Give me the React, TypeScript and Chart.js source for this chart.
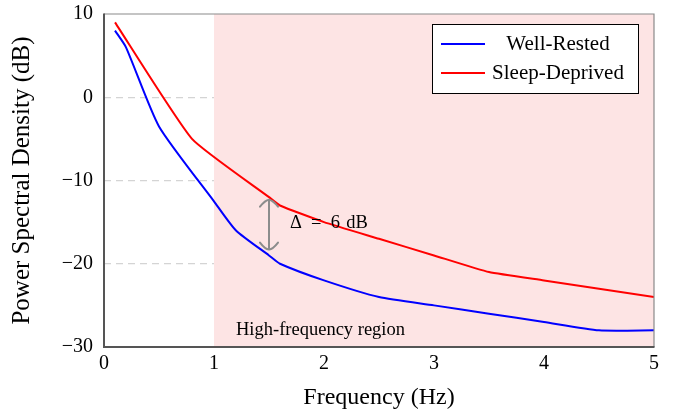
import React, { useEffect, useRef } from "react";
import { Chart, registerables, Plugin } from "chart.js";

Chart.register(...registerables);

// Spectra (frequency in Hz, power in dB)
const WELL_RESTED_X = [0.1, 0.2, 0.5, 1.0, 1.2, 1.5, 1.6, 2.0, 2.5, 3.0, 3.5, 4.0, 4.5, 5.0];
const WELL_RESTED_Y = [8, 6, -3.5, -12.5, -16, -19, -20, -22, -24, -25, -26, -27, -28, -28];
const SLEEP_DEPRIVED_X = [0.1, 0.8, 1.5, 1.6, 2.0, 2.5, 3.0, 3.5, 4.0, 5.0];
const SLEEP_DEPRIVED_Y = [9, -5, -12, -13, -15, -17, -19, -21, -22, -24];

const X_TICKS = [0, 1, 2, 3, 4, 5];
const Y_TICKS = [10, 0, -10, -20, -30];

// Shaded band and annotations
const REGION_FROM = 1;
const REGION_TO = 5;
const REGION_LABEL = "High-frequency region";
const REGION_LABEL_AT = { x: 1.2, y: -28 };
const DELTA_AT = 1.5;
const DELTA_TOP = -12.3;
const DELTA_DB = 6;
const DELTA_LABEL = `\u0394\u2002=\u2002${DELTA_DB}\u2004dB`;
const DELTA_LABEL_AT = { x: 1.69, y: -15.1 };

const SERIF = "'Liberation Serif', 'Times New Roman', serif";
const BLUE = "#0000ff";
const RED = "#ff0000";

const toPoints = (xs: number[], ys: number[]) => xs.map((x, i) => ({ x, y: ys[i] }));

const fmt = (v: number) => (v < 0 ? `\u2212${Math.abs(v)}` : `${v}`);

const decorations: Plugin<"line"> = {
  id: "decorations",
  beforeDatasetsDraw(chart) {
    const { ctx, chartArea, scales } = chart;
    const xs = scales.x;
    const x0 = xs.getPixelForValue(REGION_FROM);
    const x1 = xs.getPixelForValue(REGION_TO);
    ctx.save();
    ctx.fillStyle = "rgb(253, 228, 228)";
    ctx.fillRect(x0, chartArea.top, x1 - x0, chartArea.bottom - chartArea.top);
    ctx.restore();
  },
  afterDatasetsDraw(chart) {
    const { ctx, chartArea, scales } = chart;
    const xs = scales.x;
    const ys = scales.y;
    const { left, right, top, bottom } = chartArea;
    ctx.save();
    // frame
    ctx.strokeStyle = "#8a8a8a";
    ctx.lineWidth = 1.2;
    ctx.beginPath();
    ctx.moveTo(left, top);
    ctx.lineTo(right, top);
    ctx.lineTo(right, bottom);
    ctx.stroke();
    ctx.strokeStyle = "#555555";
    ctx.lineWidth = 2;
    ctx.beginPath();
    ctx.moveTo(left, top - 0.5);
    ctx.lineTo(left, bottom);
    ctx.lineTo(right + 0.5, bottom);
    ctx.stroke();

    // difference arrow
    const ax = xs.getPixelForValue(DELTA_AT);
    const ay0 = ys.getPixelForValue(DELTA_TOP);
    const ay1 = ys.getPixelForValue(DELTA_TOP - DELTA_DB);
    ctx.strokeStyle = "#8c8c8c";
    ctx.lineWidth = 2;
    ctx.lineCap = "round";
    ctx.beginPath();
    ctx.moveTo(ax, ay0 + 1);
    ctx.lineTo(ax, ay1 - 1);
    ctx.stroke();
    const head = (tipY: number, dir: number) => {
      ctx.beginPath();
      ctx.moveTo(ax - 9, tipY + dir * 7);
      ctx.quadraticCurveTo(ax - 4, tipY + dir * 0.5, ax, tipY);
      ctx.quadraticCurveTo(ax + 4, tipY + dir * 0.5, ax + 9, tipY + dir * 7);
      ctx.stroke();
    };
    head(ay0, 1);
    head(ay1, -1);

    ctx.fillStyle = "#000000";
    ctx.textAlign = "left";
    ctx.textBaseline = "middle";
    ctx.font = `18.5px ${SERIF}`;
    ctx.fillText(DELTA_LABEL, xs.getPixelForValue(DELTA_LABEL_AT.x), ys.getPixelForValue(DELTA_LABEL_AT.y));
    ctx.fillText(REGION_LABEL, xs.getPixelForValue(REGION_LABEL_AT.x), ys.getPixelForValue(REGION_LABEL_AT.y));

    // legend
    const bw = 206;
    const bh = 69;
    const bx = right - 16 - bw;
    const by = top + 10;
    ctx.fillStyle = "#ffffff";
    ctx.fillRect(bx, by, bw, bh);
    ctx.strokeStyle = "#000000";
    ctx.lineWidth = 1;
    ctx.strokeRect(bx + 0.5, by + 0.5, bw, bh);
    const rows = chart.data.datasets.map((d) => ({ label: d.label as string, color: d.borderColor as string }));
    rows.forEach((r, i) => {
      const cy = by + 20 + i * 29;
      ctx.strokeStyle = r.color;
      ctx.lineWidth = 2;
      ctx.lineCap = "butt";
      ctx.beginPath();
      ctx.moveTo(bx + 9, cy);
      ctx.lineTo(bx + 53, cy);
      ctx.stroke();
      ctx.fillStyle = "#000000";
      ctx.font = `21px ${SERIF}`;
      ctx.textAlign = "center";
      ctx.fillText(r.label, bx + 126, cy);
    });
    ctx.restore();
  },
};

export default function App() {
  const canvasRef = useRef<HTMLCanvasElement | null>(null);

  useEffect(() => {
    document.body.style.margin = "0";
    const canvas = canvasRef.current;
    if (!canvas) return;
    const chart = new Chart(canvas, {
      type: "line",
      data: {
        datasets: [
          {
            label: "Well-Rested",
            data: toPoints(WELL_RESTED_X, WELL_RESTED_Y),
            borderColor: BLUE,
            borderWidth: 2,
            pointRadius: 0,
            tension: 0.2,
          },
          {
            label: "Sleep-Deprived",
            data: toPoints(SLEEP_DEPRIVED_X, SLEEP_DEPRIVED_Y),
            borderColor: RED,
            borderWidth: 2,
            pointRadius: 0,
            tension: 0.15,
          },
        ],
      },
      options: {
        responsive: false,
        animation: false,
        layout: { padding: { left: 0, top: 14, right: 19, bottom: 0 } },
        plugins: { legend: { display: false }, tooltip: { enabled: false } },
        scales: {
          x: {
            type: "linear",
            min: 0,
            max: 5,
            afterFit: (s: any) => {
              s.height = 71;
              s.paddingLeft = 0;
              s.paddingRight = 0;
            },
            afterBuildTicks: (s: any) => {
              s.ticks = X_TICKS.map((v) => ({ value: v }));
            },
            grid: { display: false, drawTicks: false },
            border: { display: false },
            ticks: {
              padding: 5,
              color: "#000000",
              font: { family: SERIF, size: 20 },
              callback: (v: any) => fmt(Number(v)),
              maxRotation: 0,
            },
            title: {
              display: true,
              text: "Frequency (Hz)",
              color: "#000000",
              font: { family: SERIF, size: 24 },
              padding: { top: 0, bottom: 6 },
            },
          },
          y: {
            type: "linear",
            min: -30,
            max: 10,
            afterFit: (s: any) => {
              s.width = 104;
              s.paddingTop = 0;
              s.paddingBottom = 0;
            },
            afterBuildTicks: (s: any) => {
              s.ticks = Y_TICKS.map((v) => ({ value: v }));
            },
            grid: {
              drawTicks: false,
              lineWidth: 1.2,
              color: (c: any) =>
                c.tick && (c.tick.value === 10 || c.tick.value === -30) ? "rgba(0,0,0,0)" : "#d4d4d4",
            },
            border: { display: false, dash: [7, 5] },
            ticks: {
              padding: 11,
              color: "#000000",
              font: { family: SERIF, size: 20 },
              callback: (v: any) => fmt(Number(v)),
            },
            title: {
              display: true,
              text: "Power Spectral Density (dB)",
              color: "#000000",
              font: { family: SERIF, size: 25 },
              padding: { top: 7, bottom: 0 },
            },
          },
        },
      },
      plugins: [decorations],
    });
    return () => chart.destroy();
  }, []);

  return (
    <div style={{ width: 673, height: 418 }}>
      <canvas ref={canvasRef} width={673} height={418} />
    </div>
  );
}
